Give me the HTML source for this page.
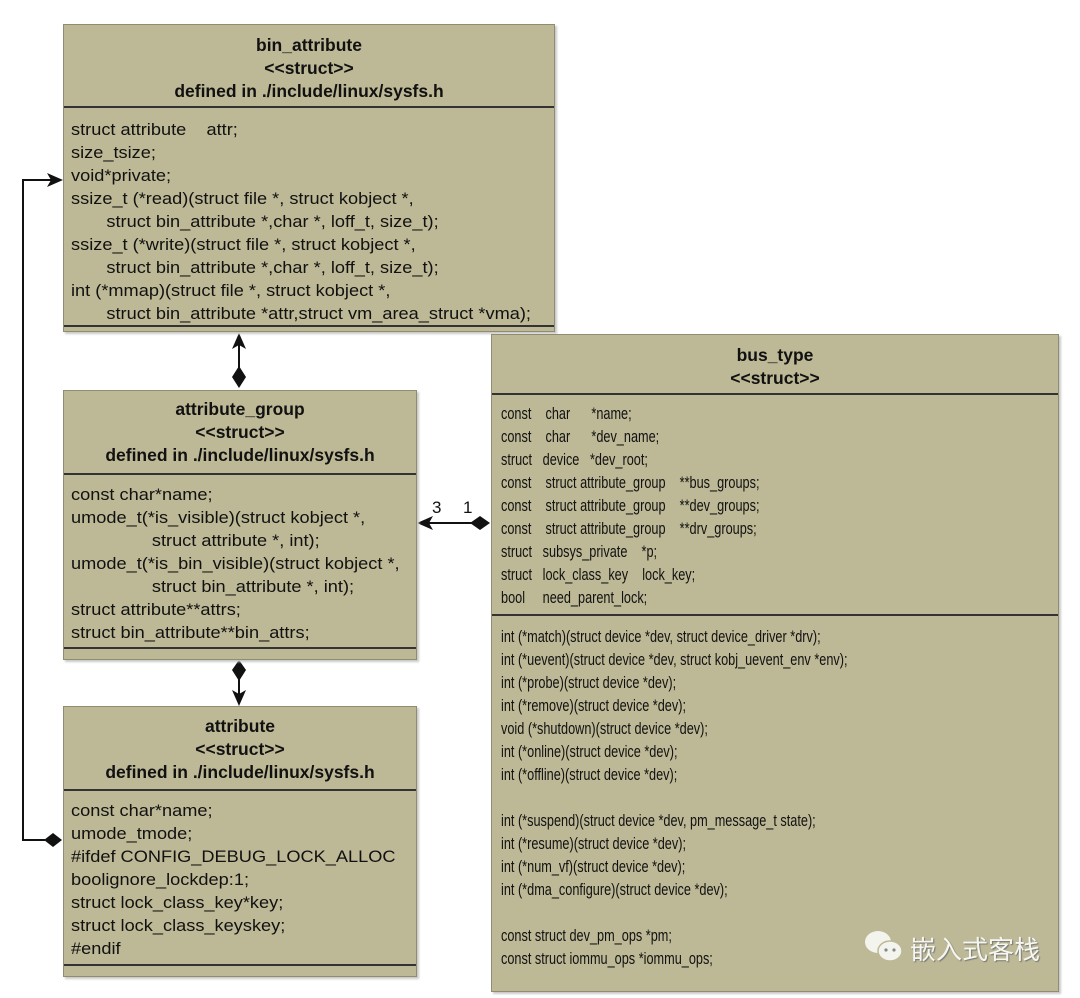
<!DOCTYPE html>
<html><head><meta charset="utf-8"><style>
body{margin:0;width:1080px;height:998px;background:#fff;position:relative;overflow:hidden;font-family:"Liberation Sans","Noto Sans CJK SC",sans-serif;color:#111}
.box{position:absolute;background:#bdb895;border:1px solid #8f8c70;box-shadow:2px 2px 2px #c8c8c8}
.hd{position:absolute;left:0;right:0;text-align:center;font-weight:bold;font-size:17.5px;line-height:23px}
.sep{position:absolute;left:0;right:0;height:2px;background:#333}
.tx{position:absolute;left:7px;font-size:17px;line-height:23px;white-space:pre;transform-origin:0 0}
.l .tx{transform:scaleX(1.07)}
.r .tx{font-size:16.5px;transform:scaleX(0.77)}
</style></head><body>
<svg width="1080" height="998" style="position:absolute;left:0;top:0">
<g stroke="#111" stroke-width="2" fill="none">
<line x1="239" y1="338" x2="239" y2="368"/>
<line x1="239" y1="678" x2="239" y2="702"/>
<polyline points="45,840 23,840 23,180 58,180"/>
<line x1="422" y1="523" x2="472" y2="523"/>
</g>
<g fill="#111">
<polygon points="239,333 232,349 239,345 246,349"/>
<polygon points="239,366 246,377 239,388 232,377"/>
<polygon points="239,660 246,670 239,681 232,670"/>
<polygon points="239,706 232,690 239,694 246,690"/>
<polygon points="63,180 47,173 51,180 47,187"/>
<polygon points="44,840 53,833 62,840 53,847"/>
<polygon points="417,523 433,516 429,523 433,530"/>
<polygon points="470,523 480,516 490,523 480,530"/>
<text x="432" y="513" font-size="17">3</text>
<text x="463" y="513" font-size="17">1</text>
</g>
</svg>
<div class="box l" style="left:63px;top:24px;width:490px;height:306px">
<div class="hd" style="top:9px">bin_attribute<br>&lt;&lt;struct&gt;&gt;<br>defined in ./include/linux/sysfs.h</div>
<div class="sep" style="top:81px"></div>
<div class="tx" style="top:93px">struct attribute    attr;
size_tsize;
void*private;
ssize_t (*read)(struct file *, struct kobject *,
       struct bin_attribute *,char *, loff_t, size_t);
ssize_t (*write)(struct file *, struct kobject *,
       struct bin_attribute *,char *, loff_t, size_t);
int (*mmap)(struct file *, struct kobject *,
       struct bin_attribute *attr,struct vm_area_struct *vma);</div>
<div class="sep" style="top:300px"></div>
</div>
<div class="box l" style="left:63px;top:390px;width:352px;height:268px">
<div class="hd" style="top:7px">attribute_group<br>&lt;&lt;struct&gt;&gt;<br>defined in ./include/linux/sysfs.h</div>
<div class="sep" style="top:82px"></div>
<div class="tx" style="top:92px">const char*name;
umode_t(*is_visible)(struct kobject *,
                struct attribute *, int);
umode_t(*is_bin_visible)(struct kobject *,
                struct bin_attribute *, int);
struct attribute**attrs;
struct bin_attribute**bin_attrs;</div>
<div class="sep" style="top:256px"></div>
</div>
<div class="box l" style="left:63px;top:706px;width:352px;height:269px">
<div class="hd" style="top:8px">attribute<br>&lt;&lt;struct&gt;&gt;<br>defined in ./include/linux/sysfs.h</div>
<div class="sep" style="top:82px"></div>
<div class="tx" style="top:92px">const char*name;
umode_tmode;
#ifdef CONFIG_DEBUG_LOCK_ALLOC
boolignore_lockdep:1;
struct lock_class_key*key;
struct lock_class_keyskey;
#endif</div>
<div class="sep" style="top:257px"></div>
</div>
<div class="box r" style="left:491px;top:334px;width:566px;height:656px">
<div class="hd" style="top:9px">bus_type<br>&lt;&lt;struct&gt;&gt;</div>
<div class="sep" style="top:58px"></div>
<div class="tx" style="top:68px;left:9px">const    char      *name;
const    char      *dev_name;
struct   device   *dev_root;
const    struct attribute_group    **bus_groups;
const    struct attribute_group    **dev_groups;
const    struct attribute_group    **drv_groups;
struct   subsys_private    *p;
struct   lock_class_key    lock_key;
bool     need_parent_lock;</div>
<div class="sep" style="top:279px"></div>
<div class="tx" style="top:291px;left:9px">int (*match)(struct device *dev, struct device_driver *drv);
int (*uevent)(struct device *dev, struct kobj_uevent_env *env);
int (*probe)(struct device *dev);
int (*remove)(struct device *dev);
void (*shutdown)(struct device *dev);
int (*online)(struct device *dev);
int (*offline)(struct device *dev);

int (*suspend)(struct device *dev, pm_message_t state);
int (*resume)(struct device *dev);
int (*num_vf)(struct device *dev);
int (*dma_configure)(struct device *dev);

const struct dev_pm_ops *pm;
const struct iommu_ops *iommu_ops;</div>
<svg style="position:absolute;left:370px;top:592px" width="46" height="40"><ellipse cx="16" cy="15" rx="13" ry="11" fill="#f4f4ee"/><ellipse cx="28" cy="24" rx="12" ry="10" fill="#f4f4ee" stroke="#bdb895" stroke-width="1.5"/><circle cx="24" cy="23" r="1.6" fill="#888"/><circle cx="32" cy="23" r="1.6" fill="#888"/></svg>
<div style="position:absolute;left:418px;top:595px;font-size:26px;color:#f6f6f0;text-shadow:1px 1px 1px #777;font-family:'Noto Sans CJK SC',sans-serif">嵌入式客栈</div>
</div>
</body></html>
